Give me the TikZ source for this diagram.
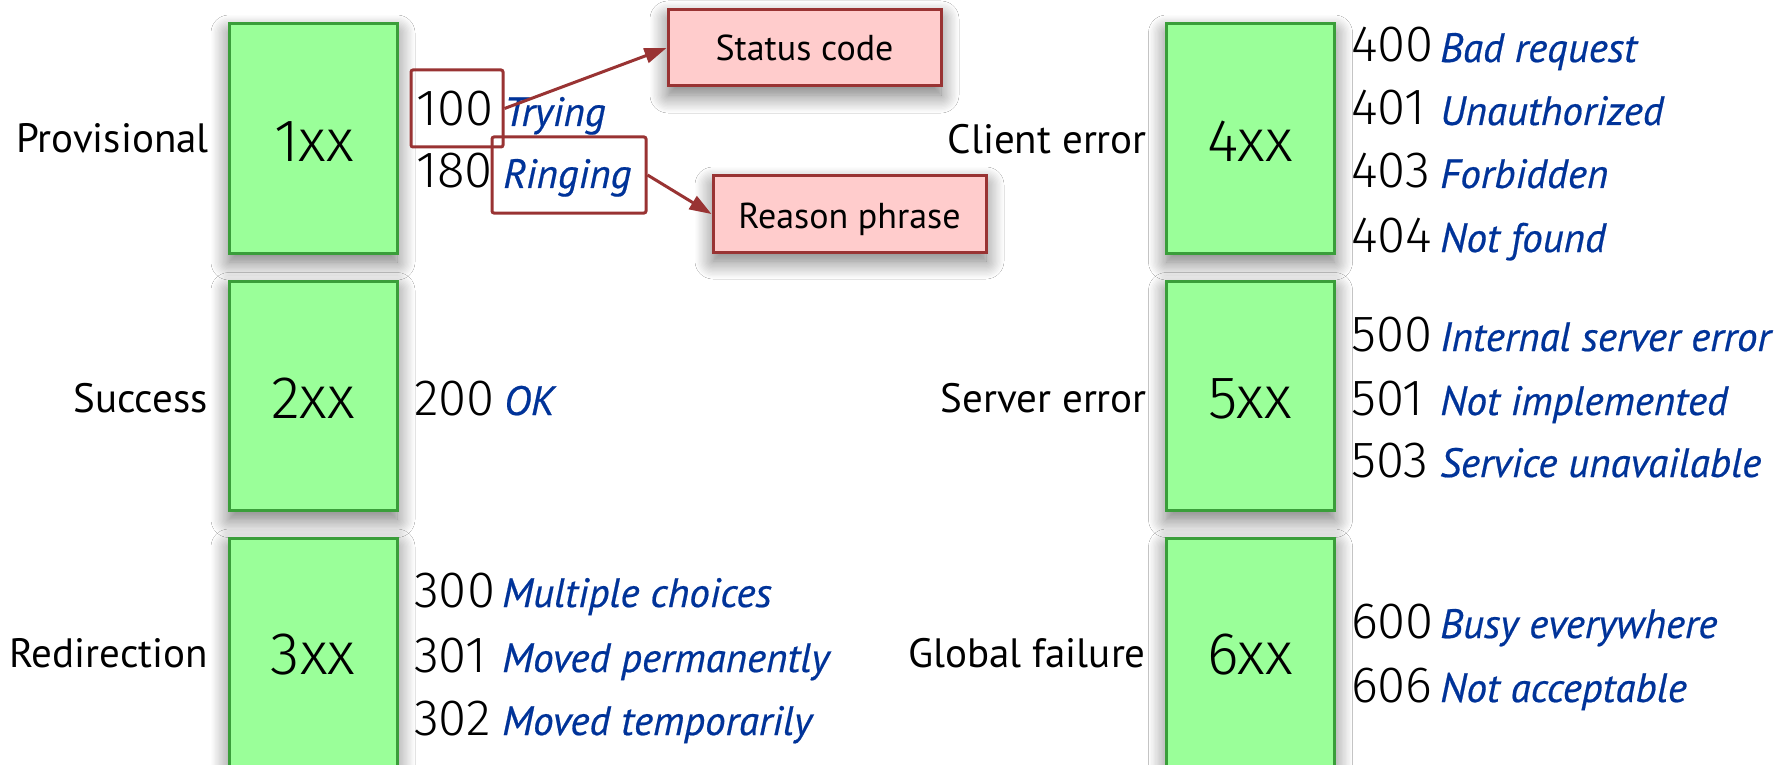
\documentclass[tikz,border=0pt]{standalone}
\usepackage{fontspec}
\setmainfont{PT Sans}
\newfontfamily\phrasefont{PT Sans Italic}[FakeBold=0.5]
\IfFontExistsTF{Fira Sans Light}{\newfontfamily\thinfont{Fira Sans Light}}{\newfontfamily\thinfont{Carlito}}
\usetikzlibrary{arrows.meta}
\IfFileExists{tikzlibraryshadows.blur.code.tex}{%
  \usetikzlibrary{shadows.blur}%
  \tikzset{softshadow/.style={blur shadow={shadow blur steps=14, shadow xshift=0pt, shadow yshift=-9pt, shadow blur radius=18pt, shadow opacity=55}}}%
}{\tikzset{softshadow/.style={}}}
\definecolor{boxfill}{RGB}{154,255,153}
\definecolor{boxgreen}{RGB}{58,158,58}
\definecolor{calloutfill}{RGB}{255,204,204}
\definecolor{calloutred}{RGB}{153,51,51}
\definecolor{codeblue}{RGB}{0,51,153}
\newcommand{\statusline}[6]{%
  \node[code] (c#1) at (#2,#4) {#5};
  \node[phrase] (p#1) at (#3,#4) {#6};}
\tikzset{
  code/.style={anchor=base west, inner sep=0pt, font=\thinfont\fontsize{51}{51}\selectfont},
  phrase/.style={anchor=base west, inner sep=0pt, text=codeblue, font=\phrasefont\fontsize{41}{41}\selectfont},
  classlabel/.style={anchor=base east, inner sep=0pt, font=\fontsize{41}{41}\selectfont},
  classbox/.style={draw=boxgreen, line width=3pt, fill=boxfill, minimum width=168pt, minimum height=229pt, inner sep=0pt, softshadow},
  classtext/.style={anchor=base, inner sep=0pt, font=\thinfont\fontsize{60}{60}\selectfont},
  callout/.style={draw=calloutred, fill=calloutfill, line width=3pt, minimum width=273pt, minimum height=76pt, inner sep=0pt, softshadow},
  callouttext/.style={anchor=base, inner sep=0pt, font=\fontsize{36}{36}\selectfont},
  hl/.style={draw=calloutred, line width=3pt, rounded corners=2pt, inner sep=0pt},
  pointer/.style={draw=calloutred, line width=3pt, -{Triangle[length=22pt,width=15pt]}}
}
\begin{document}
\begin{tikzpicture}[x=1pt,y=-1pt]
\fill[white] (0,0) rectangle (1792,765);
\useasboundingbox (0,0) rectangle (1792,765);

% class boxes
\node[classbox] (b1) at (313,138.5) {};
\node[classbox] (b2) at (313,396) {};
\node[classbox] (b3) at (313,652.5) {};
\node[classbox] (b4) at (1250.5,138.5) {};
\node[classbox] (b5) at (1250.5,396) {};
\node[classbox] (b6) at (1250.5,652.5) {};

\node[classtext] (t1) at (314,161) {1xx};
\node[classtext] (t2) at (313,418) {2xx};
\node[classtext] (t3) at (313,674) {3xx};
\node[classtext] (t4) at (1250,161) {4xx};
\node[classtext] (t5) at (1250,418) {5xx};
\node[classtext] (t6) at (1250,674) {6xx};

% class labels
\node[classlabel] (l1) at (209,153) {Provisional};
\node[classlabel] (l2) at (208,412) {Success};
\node[classlabel] (l3) at (208,667) {Redirection};
\node[classlabel] (l4) at (1147,154) {Client error};
\node[classlabel] (l5) at (1147,412) {Server error};
\node[classlabel] (l6) at (1146,667) {Global failure};

% codes
\statusline{100}{416}{504}{126}{100}{Trying}
\statusline{180}{416}{503}{188}{180}{Ringing}
\statusline{200}{414}{504}{415}{200}{OK}
\statusline{300}{414}{502}{607}{300}{Multiple choices}
\statusline{301}{414}{502}{672}{301}{Moved permanently}
\statusline{302}{414}{502}{735}{302}{Moved temporarily}
\statusline{400}{1351}{1440}{62}{400}{Bad request}
\statusline{401}{1351}{1440}{125}{401}{Unauthorized}
\statusline{403}{1351}{1440}{188}{403}{Forbidden}
\statusline{404}{1351}{1440}{252}{404}{Not found}
\statusline{500}{1351}{1440}{351}{500}{Internal server error}
\statusline{501}{1351}{1440}{415}{501}{Not implemented}
\statusline{503}{1351}{1440}{477}{503}{Service unavailable}
\statusline{600}{1351}{1440}{638}{600}{Busy everywhere}
\statusline{606}{1351}{1440}{702}{606}{Not acceptable}

% highlights
\node[hl, minimum width=92pt, minimum height=77pt] (hcode) at (457,108.5) {};
\node[hl, minimum width=154pt, minimum height=76pt] (hphrase) at (569,175) {};

% callouts
\node[callout] (status) at (804.5,48) {};
\node[callouttext] (statustext) at (804.5,61) {Status code};
\node[callout] (reason) at (849.5,214) {};
\node[callouttext] (reasontext) at (849.5,228) {Reason phrase};

\draw[pointer] (hcode.east) -- (status.west);
\draw[pointer] (hphrase.east) -- (reason.west);
\end{tikzpicture}
\end{document}
